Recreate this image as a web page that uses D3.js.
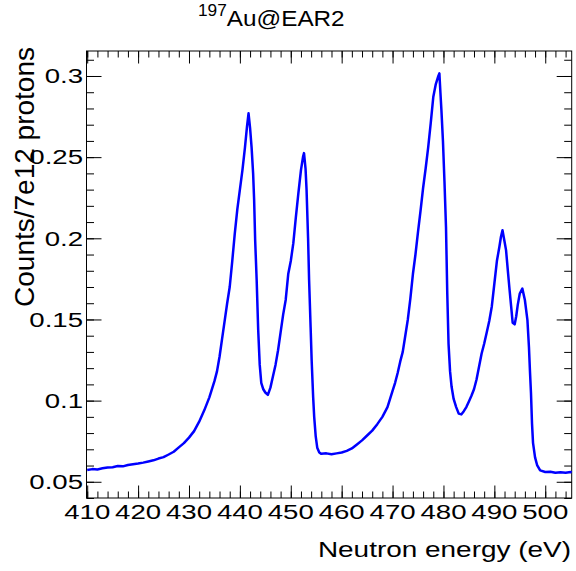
<!DOCTYPE html>
<html>
<head>
<meta charset="utf-8">
<script src="https://cdn.jsdelivr.net/npm/d3@7"></script>
<style>
body { margin: 0; background: #fff; }
text { font-family: "Liberation Sans", Arial, Helvetica, sans-serif; fill: #000; }
</style>
</head>
<body>
<svg id="chart"></svg>
<script>
// values (eV, counts / 7e12 protons)
var energy = [410, 411, 412, 413, 414, 415, 416, 417, 418, 419, 420, 421, 422, 423, 424, 425, 426, 427, 428, 429,
  430, 431, 432, 433, 434, 435, 435.5, 436, 436.5, 437, 437.5, 438, 438.5, 439, 439.5, 440, 440.5, 441, 441.4, 441.7,
  442, 442.3, 442.6, 442.8, 443, 443.3, 443.6, 443.9, 444.2, 444.6, 445, 445.5, 446, 446.5, 447, 447.5, 448, 448.5, 449, 449.5,
  450, 450.5, 451, 451.5, 452, 452.4, 452.6, 452.9, 453.1, 453.4, 453.6, 453.9, 454.1, 454.4, 454.6, 454.9, 455.2, 455.6, 456, 457,
  458, 459, 460, 461, 462, 463, 464, 465, 466, 467, 468, 469, 470, 470.5, 471, 471.5, 472, 472.5, 473, 473.5,
  474, 474.5, 475, 475.5, 476, 476.5, 477, 477.5, 478, 478.5, 479, 479.2, 479.4, 479.6, 479.9, 480.2, 480.5, 480.75, 481, 481.3,
  481.6, 482, 482.5, 483, 483.5, 484, 484.5, 485, 485.5, 486, 486.5, 487, 487.5, 488, 488.5, 489, 489.5, 490, 490.5, 491,
  491.3, 491.6, 492, 492.3, 492.7, 493, 493.3, 493.6, 494, 494.3, 494.6, 495, 495.5, 496, 496.5, 496.8, 497, 497.2, 497.4, 497.6,
  498, 498.4, 499, 500, 501, 502, 503, 504, 505, 505.2];
var counts = [0.0572, 0.0578, 0.0576, 0.0583, 0.0588, 0.0590, 0.0597, 0.0595, 0.0603, 0.0608, 0.0612, 0.0618, 0.0625, 0.0632, 0.0643, 0.0652, 0.0668, 0.0685, 0.0712, 0.0738,
  0.0772, 0.0812, 0.0870, 0.0940, 0.1020, 0.1120, 0.1180, 0.1270, 0.1380, 0.1490, 0.1600, 0.1700, 0.1860, 0.2030, 0.2180, 0.2300, 0.2420, 0.2560, 0.2690, 0.2770,
  0.2680, 0.2560, 0.2400, 0.2235, 0.1990, 0.1740, 0.1434, 0.1220, 0.1110, 0.1070, 0.1050, 0.1035, 0.1080, 0.1150, 0.1220, 0.1310, 0.1420, 0.1530, 0.1620, 0.1780,
  0.1860, 0.1970, 0.2130, 0.2280, 0.2420, 0.2500, 0.2525, 0.2430, 0.2300, 0.2000, 0.1743, 0.1450, 0.1250, 0.1020, 0.0900, 0.0780, 0.0710, 0.0680, 0.0672, 0.0675,
  0.0670, 0.0675, 0.0680, 0.0690, 0.0705, 0.0730, 0.0755, 0.0785, 0.0815, 0.0855, 0.0900, 0.0960, 0.1060, 0.1110, 0.1170, 0.1240, 0.1300, 0.1400, 0.1500, 0.1630,
  0.1780, 0.1900, 0.2040, 0.2170, 0.2310, 0.2430, 0.2560, 0.2710, 0.2870, 0.2950, 0.3000, 0.3016, 0.2900, 0.2790, 0.2600, 0.2350, 0.2070, 0.1660, 0.1350, 0.1180,
  0.1085, 0.1010, 0.0960, 0.0920, 0.0915, 0.0935, 0.0960, 0.0995, 0.1030, 0.1070, 0.1130, 0.1210, 0.1290, 0.1350, 0.1420, 0.1490, 0.1580, 0.1720, 0.1860, 0.1950,
  0.2010, 0.2050, 0.1980, 0.1927, 0.1784, 0.1680, 0.1580, 0.1480, 0.1470, 0.1520, 0.1590, 0.1660, 0.1690, 0.1620, 0.1496, 0.1330, 0.1180, 0.1045, 0.0860, 0.0740,
  0.0650, 0.0603, 0.0570, 0.0560, 0.0562, 0.0555, 0.0558, 0.0556, 0.0560, 0.0558];

var xTicks = [410, 420, 430, 440, 450, 460, 470, 480, 490, 500];
var yTicks = [0.05, 0.1, 0.15, 0.2, 0.25, 0.3];
var yTickLabels = ["0.05", "0.1", "0.15", "0.2", "0.25", "0.3"];
var titleSup = "197";
var titleMain = "Au@EAR2";
var xTitle = "Neutron energy (eV)";
var yTitle = "Counts/7e12 protons";

var width = 576, height = 571;
var frameLeft = 86.5, frameRight = 571.7, frameTop = 51, frameBottom = 498;

var svg = d3.select("#chart")
    .attr("width", width)
    .attr("height", height);

var xScale = d3.scaleLinear().domain([409.86, 505.2]).range([frameLeft, frameRight]);
var yScale = d3.scaleLinear().domain([0.04, 0.3154]).range([frameBottom, frameTop]);

var xMinor = d3.range(410, 505.1, 2);
var yMinor = d3.range(4, 32).map(function(d) { return d / 100; });

var noLabel = function() { return ""; };

// ticks on all four sides, pointing inward
var addAxis = function(axis, tx, ty) {
    var g = svg.append("g").attr("transform", "translate(" + tx + "," + ty + ")").call(axis);
    g.select(".domain").remove();
    g.selectAll("line").attr("stroke", "#000").attr("stroke-width", 1);
};
addAxis(d3.axisBottom(xScale).tickValues(xMinor).tickSize(-6.5).tickSizeOuter(0).tickFormat(noLabel), 0, frameBottom);
addAxis(d3.axisBottom(xScale).tickValues(xTicks).tickSize(-12.5).tickSizeOuter(0).tickFormat(noLabel), 0, frameBottom);
addAxis(d3.axisTop(xScale).tickValues(xMinor).tickSize(-6.5).tickSizeOuter(0).tickFormat(noLabel), 0, frameTop);
addAxis(d3.axisTop(xScale).tickValues(xTicks).tickSize(-12.5).tickSizeOuter(0).tickFormat(noLabel), 0, frameTop);
addAxis(d3.axisLeft(yScale).tickValues(yMinor).tickSize(-7.5).tickSizeOuter(0).tickFormat(noLabel), frameLeft, 0);
addAxis(d3.axisLeft(yScale).tickValues(yTicks).tickSize(-15).tickSizeOuter(0).tickFormat(noLabel), frameLeft, 0);
addAxis(d3.axisRight(yScale).tickValues(yMinor).tickSize(-7.5).tickSizeOuter(0).tickFormat(noLabel), frameRight, 0);
addAxis(d3.axisRight(yScale).tickValues(yTicks).tickSize(-15).tickSizeOuter(0).tickFormat(noLabel), frameRight, 0);

// frame
svg.append("rect")
    .attr("x", frameLeft).attr("y", frameTop)
    .attr("width", frameRight - frameLeft).attr("height", frameBottom - frameTop)
    .attr("fill", "none").attr("stroke", "#000").attr("stroke-width", 1);

// the histogram line
var line = d3.line()
    .x(function(d, i) { return xScale(energy[i]); })
    .y(function(d) { return yScale(d); });

svg.append("path")
    .datum(counts)
    .attr("d", line)
    .attr("fill", "none")
    .attr("stroke", "#0000ff")
    .attr("stroke-width", 2.5)
    .attr("stroke-linejoin", "round");

// tick labels (the picture has wide glyphs, so stretch them)
svg.selectAll(".xlab")
    .data(xTicks)
    .enter()
    .append("text")
    .attr("class", "xlab")
    .attr("transform", function(d) { return "translate(" + xScale(d) + ",518.5) scale(1.38,1)"; })
    .attr("text-anchor", "middle")
    .style("font-size", "20px")
    .text(function(d) { return d; });

svg.selectAll(".ylab")
    .data(yTicks)
    .enter()
    .append("text")
    .attr("class", "ylab")
    .attr("transform", function(d) { return "translate(83," + (yScale(d) + 7.2) + ") scale(1.38,1)"; })
    .attr("text-anchor", "end")
    .style("font-size", "20px")
    .text(function(d, i) { return yTickLabels[i]; });

// axis titles
svg.append("text")
    .attr("transform", "translate(571,557) scale(1.3,1)")
    .attr("text-anchor", "end")
    .style("font-size", "21.5px")
    .text(xTitle);

svg.append("text")
    .attr("transform", "translate(34,47) rotate(-90)")
    .attr("text-anchor", "end")
    .style("font-size", "28px")
    .text(yTitle);

// title
var title = svg.append("text")
    .attr("transform", "translate(198,26) scale(1.08,1)");
title.append("tspan")
    .style("font-size", "16px")
    .attr("dy", -10)
    .text(titleSup);
title.append("tspan")
    .style("font-size", "22.5px")
    .attr("dy", 10)
    .text(titleMain);
</script>
</body>
</html>
